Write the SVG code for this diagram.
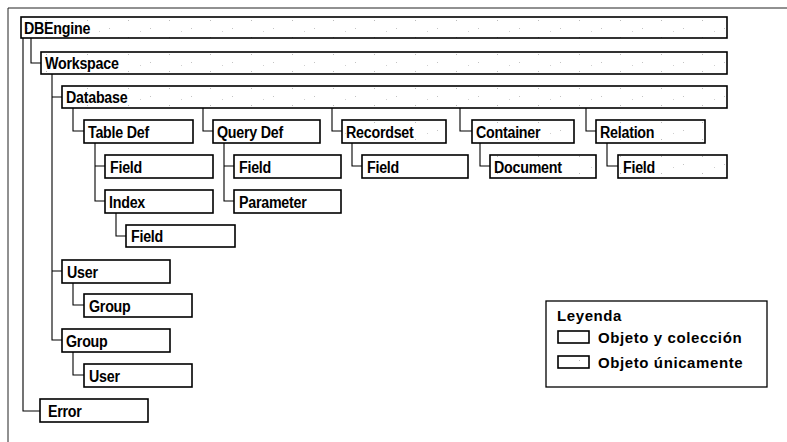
<svg xmlns="http://www.w3.org/2000/svg" width="787" height="442" viewBox="0 0 787 442">
<style>
.bg{fill:#fff}
.box{fill:#fff;stroke:#000;stroke-width:1.6}
.obj{fill:url(#spk);stroke:#000;stroke-width:1.6}
.lbl{font-family:"Liberation Sans","DejaVu Sans",sans-serif;font-weight:bold;font-size:17px;fill:#000;letter-spacing:-0.3px;transform-box:fill-box;transform-origin:left center;transform:scaleX(0.84)}
.leg{font-family:"Liberation Sans","DejaVu Sans",sans-serif;font-weight:bold;font-size:15px;fill:#000;letter-spacing:0.6px}
.con{fill:none;stroke:#000;stroke-width:1.1}
.frame{fill:none;stroke:#222;stroke-width:1}
</style>
<defs>
<pattern id="spk" width="41" height="17" patternUnits="userSpaceOnUse">
<rect width="41" height="17" fill="#fff"/>
<rect x="5" y="3" width="1" height="1" fill="#bbb"/>
<rect x="27" y="11" width="1" height="1" fill="#c4c4c4"/>
<rect x="17" y="14" width="1" height="1" fill="#d0d0d0"/>
</pattern>
</defs>
<rect class="bg" width="787" height="442"/>
<path class="frame" d="M8,442 V8 H787"/>

<g id="connectors">
<path class="con" d="M23,38 V411 H40"/>
<path class="con" d="M31,38 V63 H41"/>
<path class="con" d="M52,74 V340 H62 M52,97 H62 M52,271 H62"/>
<path class="con" d="M73,108 V131 H84"/>
<path class="con" d="M203,108 V131 H213"/>
<path class="con" d="M332,108 V131 H342"/>
<path class="con" d="M460,108 V131 H472"/>
<path class="con" d="M586,108 V131 H596"/>
<path class="con" d="M95,143 V201 H105 M95,166 H105"/>
<path class="con" d="M224,143 V201 H234 M224,166 H234"/>
<path class="con" d="M352,143 V166 H362"/>
<path class="con" d="M480,143 V166 H490"/>
<path class="con" d="M607,143 V166 H618"/>
<path class="con" d="M116,213 V236 H126"/>
<path class="con" d="M73,283 V305 H84"/>
<path class="con" d="M73,352 V375 H84"/>
</g>

<g id="dbengine"><rect class="obj" x="21" y="17" width="706" height="21"/><text class="lbl" x="24" y="34">DBEngine</text></g>
<g id="workspace"><rect class="obj" x="41" y="52" width="686" height="22"/><text class="lbl" x="45" y="69">Workspace</text></g>
<g id="database"><rect class="obj" x="62" y="86" width="665" height="22"/><text class="lbl" x="66" y="103">Database</text></g>

<g id="tabledef"><rect class="box" x="84" y="120" width="109" height="23"/><text class="lbl" x="88" y="138">Table Def</text></g>
<g id="querydef"><rect class="box" x="213" y="120" width="107" height="23"/><text class="lbl" x="217" y="138">Query Def</text></g>
<g id="recordset"><rect class="obj" x="342" y="120" width="104" height="23"/><text class="lbl" x="346" y="138">Recordset</text></g>
<g id="container"><rect class="obj" x="472" y="120" width="102" height="23"/><text class="lbl" x="476" y="138">Container</text></g>
<g id="relation"><rect class="obj" x="596" y="120" width="109" height="23"/><text class="lbl" x="600" y="138">Relation</text></g>

<g id="tabledef-field"><rect class="box" x="105" y="155" width="108" height="23"/><text class="lbl" x="110" y="173">Field</text></g>
<g id="querydef-field"><rect class="box" x="234" y="155" width="107" height="23"/><text class="lbl" x="239" y="173">Field</text></g>
<g id="recordset-field"><rect class="box" x="362" y="155" width="106" height="23"/><text class="lbl" x="367" y="173">Field</text></g>
<g id="document"><rect class="obj" x="490" y="155" width="106" height="23"/><text class="lbl" x="494" y="173">Document</text></g>
<g id="relation-field"><rect class="obj" x="618" y="155" width="109" height="23"/><text class="lbl" x="623" y="173">Field</text></g>

<g id="index"><rect class="box" x="105" y="190" width="108" height="23"/><text class="lbl" x="109" y="208">Index</text></g>
<g id="parameter"><rect class="box" x="234" y="190" width="107" height="23"/><text class="lbl" x="239" y="208">Parameter</text></g>
<g id="index-field"><rect class="box" x="126" y="225" width="109" height="22"/><text class="lbl" x="131" y="242">Field</text></g>

<g id="user"><rect class="box" x="62" y="260" width="108" height="23"/><text class="lbl" x="67" y="278">User</text></g>
<g id="user-group"><rect class="box" x="84" y="294" width="108" height="23"/><text class="lbl" x="89" y="312">Group</text></g>
<g id="group"><rect class="box" x="62" y="329" width="108" height="23"/><text class="lbl" x="66" y="347">Group</text></g>
<g id="group-user"><rect class="box" x="84" y="364" width="108" height="23"/><text class="lbl" x="89" y="382">User</text></g>
<g id="error"><rect class="box" x="40" y="399" width="108" height="23"/><text class="lbl" x="48" y="417">Error</text></g>

<g id="legend">
<rect x="546" y="301" width="221" height="86" fill="#fff" stroke="#000" stroke-width="1.3"/>
<text class="leg" x="557" y="321">Leyenda</text>
<rect class="box" x="558" y="331" width="31" height="12" stroke-width="1.4"/>
<text class="leg" x="598" y="343">Objeto y colección</text>
<rect class="obj" x="558" y="356" width="31" height="12" stroke-width="1.4"/>
<text class="leg" x="598" y="368">Objeto únicamente</text>
</g>
</svg>
